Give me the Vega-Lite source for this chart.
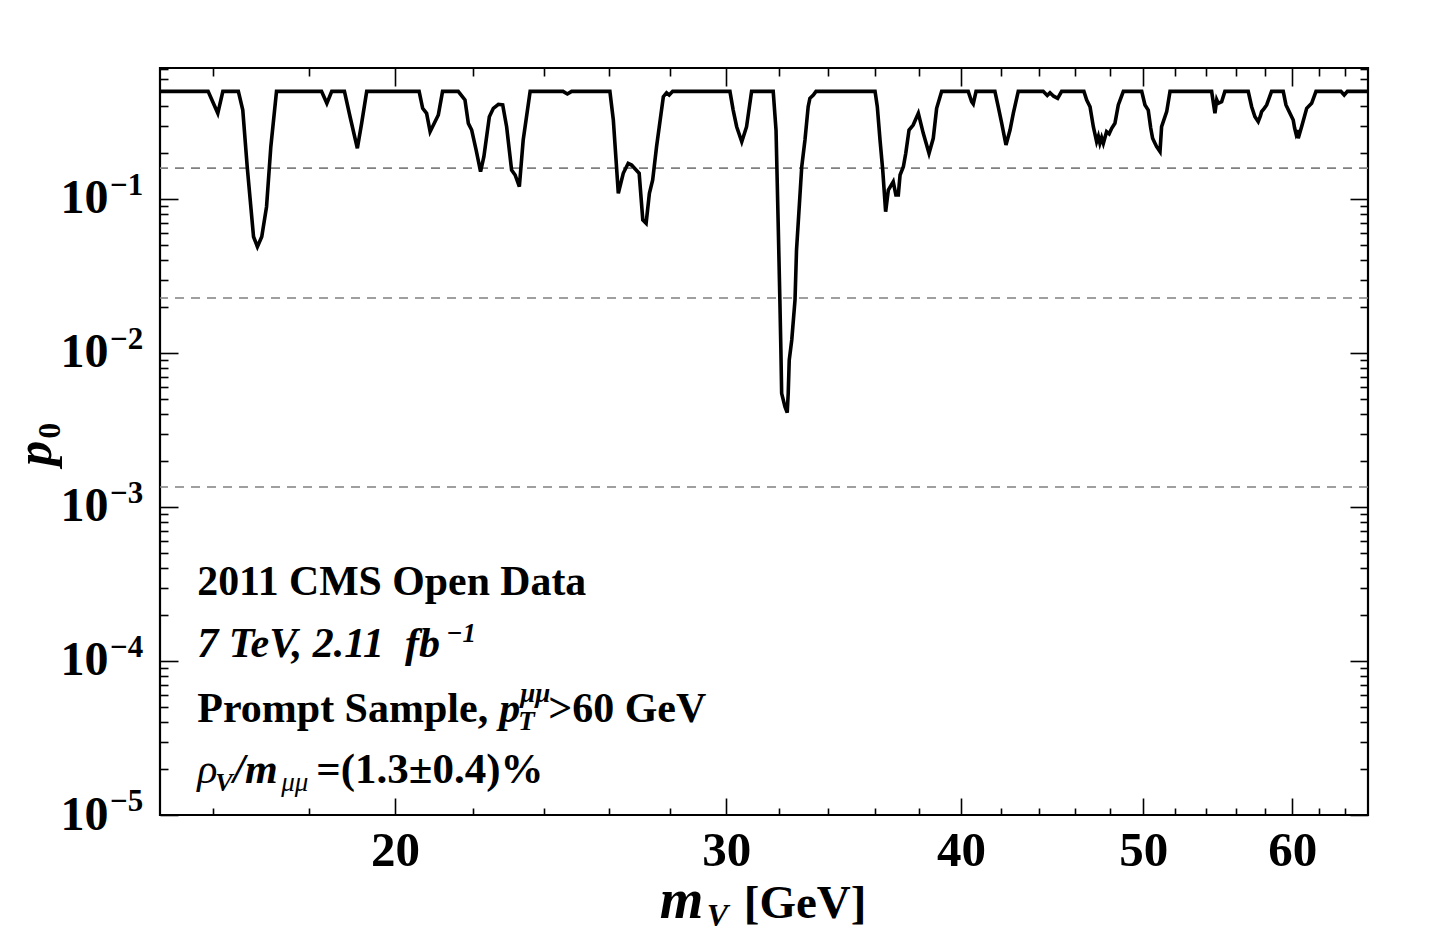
{
  "$schema": "https://vega.github.io/schema/vega-lite/v6.json",
  "width": 1208,
  "height": 747,
  "autosize": {"type": "none"},
  "padding": {"left": 160, "top": 68, "right": 70, "bottom": 121},
  "background": "white",
  "datasets": {
    "sigmas": [{"sig": 0.158655}, {"sig": 0.02275}, {"sig": 0.0013499}],
    "decades": [{"v": 0.00001, "e": "−5"}, {"v": 0.0001, "e": "−4"}, {"v": 0.001, "e": "−3"}, {"v": 0.01, "e": "−2"}, {"v": 0.1, "e": "−1"}],
    "curve": [
      {"m": 15.00, "p": 0.5}, {"m": 15.91, "p": 0.5}, {"m": 16.10, "p": 0.360}, {"m": 16.20, "p": 0.5},
      {"m": 16.51, "p": 0.5}, {"m": 16.60, "p": 0.378}, {"m": 16.69, "p": 0.162}, {"m": 16.82, "p": 0.0569},
      {"m": 16.90, "p": 0.0490}, {"m": 16.99, "p": 0.0569}, {"m": 17.09, "p": 0.0891}, {"m": 17.18, "p": 0.2186},
      {"m": 17.30, "p": 0.5}, {"m": 18.28, "p": 0.5}, {"m": 18.40, "p": 0.418}, {"m": 18.51, "p": 0.5},
      {"m": 18.80, "p": 0.5}, {"m": 18.93, "p": 0.342}, {"m": 19.10, "p": 0.2134}, {"m": 19.20, "p": 0.310},
      {"m": 19.32, "p": 0.5}, {"m": 20.60, "p": 0.5}, {"m": 20.69, "p": 0.388}, {"m": 20.79, "p": 0.360},
      {"m": 20.88, "p": 0.2735}, {"m": 21.09, "p": 0.351}, {"m": 21.20, "p": 0.5}, {"m": 21.61, "p": 0.5},
      {"m": 21.79, "p": 0.4394}, {"m": 21.88, "p": 0.310}, {"m": 21.97, "p": 0.2806}, {"m": 22.09, "p": 0.208},
      {"m": 22.21, "p": 0.1504}, {"m": 22.30, "p": 0.1883}, {"m": 22.45, "p": 0.342}, {"m": 22.56, "p": 0.388},
      {"m": 22.70, "p": 0.412}, {"m": 22.82, "p": 0.408}, {"m": 22.93, "p": 0.2947}, {"m": 23.07, "p": 0.1543},
      {"m": 23.17, "p": 0.1432}, {"m": 23.29, "p": 0.1202}, {"m": 23.40, "p": 0.2416}, {"m": 23.60, "p": 0.5},
      {"m": 24.57, "p": 0.5}, {"m": 24.70, "p": 0.4806}, {"m": 24.83, "p": 0.5}, {"m": 26.02, "p": 0.5},
      {"m": 26.13, "p": 0.326}, {"m": 26.21, "p": 0.1883}, {"m": 26.29, "p": 0.1089}, {"m": 26.45, "p": 0.1468},
      {"m": 26.61, "p": 0.1705}, {"m": 26.72, "p": 0.1662}, {"m": 26.97, "p": 0.1468}, {"m": 27.09, "p": 0.0731},
      {"m": 27.20, "p": 0.0696}, {"m": 27.31, "p": 0.1089}, {"m": 27.42, "p": 0.1328}, {"m": 27.55, "p": 0.2186},
      {"m": 27.78, "p": 0.4616}, {"m": 27.89, "p": 0.49}, {"m": 27.98, "p": 0.4735}, {"m": 28.10, "p": 0.5},
      {"m": 30.14, "p": 0.5}, {"m": 30.26, "p": 0.378}, {"m": 30.39, "p": 0.2947}, {"m": 30.58, "p": 0.2355},
      {"m": 30.76, "p": 0.2947}, {"m": 30.95, "p": 0.5}, {"m": 31.78, "p": 0.5}, {"m": 31.89, "p": 0.2806},
      {"m": 31.98, "p": 0.0629}, {"m": 32.04, "p": 0.0221}, {"m": 32.08, "p": 0.01046}, {"m": 32.11, "p": 0.00547},
      {"m": 32.24, "p": 0.00448}, {"m": 32.33, "p": 0.00410}, {"m": 32.37, "p": 0.0055}, {"m": 32.41, "p": 0.0090},
      {"m": 32.51, "p": 0.01215}, {"m": 32.64, "p": 0.0221}, {"m": 32.70, "p": 0.0466}, {"m": 32.91, "p": 0.162},
      {"m": 33.04, "p": 0.2416}, {"m": 33.17, "p": 0.3976}, {"m": 33.24, "p": 0.4507}, {"m": 33.38, "p": 0.4735},
      {"m": 33.49, "p": 0.5}, {"m": 36.00, "p": 0.5}, {"m": 36.10, "p": 0.3976}, {"m": 36.22, "p": 0.2416},
      {"m": 36.34, "p": 0.1543}, {"m": 36.47, "p": 0.0827}, {"m": 36.59, "p": 0.1144}, {"m": 36.81, "p": 0.1295},
      {"m": 36.93, "p": 0.1062}, {"m": 37.04, "p": 0.1062}, {"m": 37.12, "p": 0.1432}, {"m": 37.27, "p": 0.162},
      {"m": 37.38, "p": 0.198}, {"m": 37.53, "p": 0.2806}, {"m": 37.72, "p": 0.302}, {"m": 37.96, "p": 0.360},
      {"m": 38.19, "p": 0.267}, {"m": 38.46, "p": 0.198}, {"m": 38.66, "p": 0.2479}, {"m": 38.82, "p": 0.388},
      {"m": 39.06, "p": 0.5}, {"m": 40.35, "p": 0.5}, {"m": 40.52, "p": 0.428}, {"m": 40.60, "p": 0.414},
      {"m": 40.74, "p": 0.5}, {"m": 41.69, "p": 0.5}, {"m": 41.86, "p": 0.3976}, {"m": 42.04, "p": 0.310},
      {"m": 42.26, "p": 0.2242}, {"m": 42.47, "p": 0.2806}, {"m": 42.64, "p": 0.360}, {"m": 42.90, "p": 0.5},
      {"m": 44.23, "p": 0.5}, {"m": 44.45, "p": 0.47}, {"m": 44.60, "p": 0.49}, {"m": 44.80, "p": 0.465}, {"m": 45.02, "p": 0.4507}, {"m": 45.24, "p": 0.5},
      {"m": 46.49, "p": 0.5}, {"m": 46.65, "p": 0.4394}, {"m": 46.84, "p": 0.3976}, {"m": 47.03, "p": 0.2947},
      {"m": 47.22, "p": 0.2355}, {"m": 47.32, "p": 0.255}, {"m": 47.41, "p": 0.2299}, {"m": 47.51, "p": 0.25}, {"m": 47.61, "p": 0.2299}, {"m": 47.80, "p": 0.2735},
      {"m": 47.95, "p": 0.265}, {"m": 48.10, "p": 0.2877}, {"m": 48.29, "p": 0.310}, {"m": 48.49, "p": 0.408}, {"m": 48.79, "p": 0.5},
      {"m": 49.90, "p": 0.5}, {"m": 50.10, "p": 0.408}, {"m": 50.30, "p": 0.378}, {"m": 50.45, "p": 0.29}, {"m": 50.57, "p": 0.2479},
      {"m": 50.70, "p": 0.232}, {"m": 50.82, "p": 0.2186}, {"m": 51.03, "p": 0.2028}, {"m": 51.13, "p": 0.2947}, {"m": 51.45, "p": 0.369},
      {"m": 51.66, "p": 0.5}, {"m": 54.36, "p": 0.5}, {"m": 54.58, "p": 0.360}, {"m": 54.70, "p": 0.44}, {"m": 54.80, "p": 0.418},
      {"m": 55.03, "p": 0.428}, {"m": 55.25, "p": 0.5}, {"m": 56.85, "p": 0.5}, {"m": 57.09, "p": 0.3976},
      {"m": 57.32, "p": 0.342}, {"m": 57.55, "p": 0.3177}, {"m": 57.70, "p": 0.345}, {"m": 57.79, "p": 0.369}, {"m": 57.95, "p": 0.385}, {"m": 58.15, "p": 0.408},
      {"m": 58.50, "p": 0.5}, {"m": 59.34, "p": 0.5}, {"m": 59.54, "p": 0.408}, {"m": 59.83, "p": 0.360},
      {"m": 60.07, "p": 0.326}, {"m": 60.17, "p": 0.29}, {"m": 60.27, "p": 0.267}, {"m": 60.35, "p": 0.28}, {"m": 60.44, "p": 0.2479}, {"m": 60.69, "p": 0.2947},
      {"m": 61.07, "p": 0.388}, {"m": 61.44, "p": 0.418}, {"m": 61.77, "p": 0.5}, {"m": 63.68, "p": 0.5},
      {"m": 63.94, "p": 0.4735}, {"m": 64.19, "p": 0.5}, {"m": 65.83, "p": 0.5}
    ],
    "one": [{}]
  },
  "layer": [
    {
      "data": {"name": "sigmas"},
      "mark": {"type": "rule", "stroke": "#808080", "strokeWidth": 1.6, "strokeDash": [9, 7]},
      "encoding": {
        "y": {"field": "sig", "type": "quantitative", "scale": {"type": "log", "domain": [0.00001, 0.709], "nice": false}, "axis": null}
      }
    },
    {
      "data": {"name": "curve"},
      "mark": {"type": "line", "stroke": "black", "strokeWidth": 3.6, "clip": true},
      "encoding": {
        "x": {
          "field": "m", "type": "quantitative",
          "scale": {"type": "log", "domain": [15, 65.83], "nice": false},
          "axis": {
            "orient": "bottom", "title": null,
            "values": [16, 18, 20, 22, 24, 26, 28, 30, 32, 34, 36, 38, 40, 42, 44, 46, 48, 50, 52, 54, 56, 58, 60, 62, 64],
            "labelExpr": "indexof([20, 30, 40, 50, 60], datum.value) >= 0 ? '' + datum.value : ''",
            "tickSize": {"condition": {"test": "indexof([20, 30, 40, 50, 60], datum.value) >= 0", "value": -17}, "value": -7},
            "labelPadding": 28, "labelFontSize": 49, "labelOverlap": false, "labelFlush": false
          }
        },
        "y": {
          "field": "p", "type": "quantitative",
          "scale": {"type": "log", "domain": [0.00001, 0.709], "nice": false},
          "axis": {
            "orient": "left", "title": null,
            "values": [0.00001, 0.00002, 0.00003, 0.00004, 0.00005, 0.00006, 0.00007, 0.00008, 0.00009,
                       0.0001, 0.0002, 0.0003, 0.0004, 0.0005, 0.0006, 0.0007, 0.0008, 0.0009,
                       0.001, 0.002, 0.003, 0.004, 0.005, 0.006, 0.007, 0.008, 0.009,
                       0.01, 0.02, 0.03, 0.04, 0.05, 0.06, 0.07, 0.08, 0.09,
                       0.1, 0.2, 0.3, 0.4, 0.5, 0.6, 0.7],
            "labelExpr": "abs(log(datum.value)/LN10 - round(log(datum.value)/LN10)) < 0.01 ? '10' : ''",
            "tickSize": {"condition": {"test": "abs(log(datum.value)/LN10 - round(log(datum.value)/LN10)) < 0.01", "value": -18}, "value": -8},
            "labelPadding": 70, "labelFontSize": 48, "labelOverlap": false, "labelFlush": false
          }
        }
      }
    },
    {
      "data": {"name": "decades"},
      "mark": {"type": "text", "font": "Liberation Serif", "fontSize": 31, "fontWeight": "bold", "align": "left", "baseline": "alphabetic", "color": "black", "dx": -50, "dy": -4},
      "encoding": {
        "x": {"datum": 15, "type": "quantitative", "scale": {"type": "log", "domain": [15, 65.83], "nice": false}, "axis": null},
        "y": {"field": "v", "type": "quantitative", "scale": {"type": "log", "domain": [0.00001, 0.709], "nice": false}, "axis": null},
        "text": {"field": "e", "type": "nominal"}
      }
    },
    {
      "data": {"name": "one"},
      "mark": {"type": "text", "text": "2011 CMS Open Data", "font": "Liberation Serif", "fontSize": 41.8, "fontWeight": "bold", "align": "left", "baseline": "alphabetic", "color": "black"},
      "encoding": {
        "x": {"datum": 15.70, "type": "quantitative", "scale": {"type": "log", "domain": [15, 65.83], "nice": false},
          "axis": {
            "orient": "top", "title": null, "labels": false,
            "values": [16, 18, 20, 22, 24, 26, 28, 30, 32, 34, 36, 38, 40, 42, 44, 46, 48, 50, 52, 54, 56, 58, 60, 62, 64],
            "tickSize": {"condition": {"test": "indexof([20, 30, 40, 50, 60], datum.value) >= 0", "value": -18}, "value": -8}
          }},
        "y": {"datum": 0.0002683, "type": "quantitative", "scale": {"type": "log", "domain": [0.00001, 0.709], "nice": false},
          "axis": {
            "orient": "right", "title": null, "labels": false,
            "values": [0.00001, 0.00002, 0.00003, 0.00004, 0.00005, 0.00006, 0.00007, 0.00008, 0.00009,
                       0.0001, 0.0002, 0.0003, 0.0004, 0.0005, 0.0006, 0.0007, 0.0008, 0.0009,
                       0.001, 0.002, 0.003, 0.004, 0.005, 0.006, 0.007, 0.008, 0.009,
                       0.01, 0.02, 0.03, 0.04, 0.05, 0.06, 0.07, 0.08, 0.09,
                       0.1, 0.2, 0.3, 0.4, 0.5, 0.6, 0.7],
            "tickSize": {"condition": {"test": "abs(log(datum.value)/LN10 - round(log(datum.value)/LN10)) < 0.01", "value": -18}, "value": -8}
          }}
      }
    },
    {
      "data": {"name": "one"},
      "layer": [
        {"mark": {"type": "text", "text": "7 TeV, 2.11\u00a0\u00a0fb", "font": "Liberation Serif", "fontSize": 42, "fontWeight": "bold", "fontStyle": "italic", "align": "left", "baseline": "alphabetic", "color": "black"}},
        {"mark": {"type": "text", "text": "−1", "font": "Liberation Serif", "fontSize": 27, "fontWeight": "bold", "fontStyle": "italic", "align": "left", "baseline": "alphabetic", "color": "black", "dx": 249, "dy": -15}}
      ],
      "encoding": {
        "x": {"datum": 15.70, "type": "quantitative", "scale": {"type": "log", "domain": [15, 65.83], "nice": false}, "axis": null},
        "y": {"datum": 0.0001061, "type": "quantitative", "scale": {"type": "log", "domain": [0.00001, 0.709], "nice": false}, "axis": null}
      }
    },
    {
      "data": {"name": "one"},
      "layer": [
        {"mark": {"type": "text", "text": "Prompt Sample,", "font": "Liberation Serif", "fontSize": 42, "fontWeight": "bold", "align": "left", "baseline": "alphabetic", "color": "black"}},
        {"mark": {"type": "text", "text": "p", "font": "Liberation Serif", "fontSize": 42, "fontWeight": "bold", "fontStyle": "italic", "align": "left", "baseline": "alphabetic", "color": "black", "dx": 302}},
        {"mark": {"type": "text", "text": "μμ", "font": "Liberation Serif", "fontSize": 27, "fontWeight": "bold", "fontStyle": "italic", "align": "left", "baseline": "alphabetic", "color": "black", "dx": 323, "dy": -20}},
        {"mark": {"type": "text", "text": "T", "font": "Liberation Serif", "fontSize": 27, "fontWeight": "bold", "fontStyle": "italic", "align": "left", "baseline": "alphabetic", "color": "black", "dx": 321, "dy": 8}},
        {"mark": {"type": "text", "text": ">60 GeV", "font": "Liberation Serif", "fontSize": 42, "fontWeight": "bold", "align": "left", "baseline": "alphabetic", "color": "black", "dx": 351}}
      ],
      "encoding": {
        "x": {"datum": 15.70, "type": "quantitative", "scale": {"type": "log", "domain": [15, 65.83], "nice": false}, "axis": null},
        "y": {"datum": 0.0000402, "type": "quantitative", "scale": {"type": "log", "domain": [0.00001, 0.709], "nice": false}, "axis": null}
      }
    },
    {
      "data": {"name": "one"},
      "layer": [
        {"mark": {"type": "text", "text": "ρ", "font": "Liberation Serif", "fontSize": 42, "fontStyle": "italic", "align": "left", "baseline": "alphabetic", "color": "black"}},
        {"mark": {"type": "text", "text": "V", "font": "Liberation Serif", "fontSize": 26, "fontWeight": "bold", "fontStyle": "italic", "align": "left", "baseline": "alphabetic", "color": "black", "dx": 18, "dy": 8}},
        {"mark": {"type": "text", "text": "/m", "font": "Liberation Serif", "fontSize": 42, "fontWeight": "bold", "fontStyle": "italic", "align": "left", "baseline": "alphabetic", "color": "black", "dx": 36}},
        {"mark": {"type": "text", "text": "μμ", "font": "Liberation Serif", "fontSize": 27, "fontStyle": "italic", "align": "left", "baseline": "alphabetic", "color": "black", "dx": 84, "dy": 8}},
        {"mark": {"type": "text", "text": "=(1.3±0.4)%", "font": "Liberation Serif", "fontSize": 43, "fontWeight": "bold", "align": "left", "baseline": "alphabetic", "color": "black", "dx": 119}}
      ],
      "encoding": {
        "x": {"datum": 15.70, "type": "quantitative", "scale": {"type": "log", "domain": [15, 65.83], "nice": false}, "axis": null},
        "y": {"datum": 0.00001614, "type": "quantitative", "scale": {"type": "log", "domain": [0.00001, 0.709], "nice": false}, "axis": null}
      }
    },
    {
      "data": {"name": "one"},
      "layer": [
        {"mark": {"type": "text", "text": "m", "font": "Liberation Serif", "fontSize": 56, "fontWeight": "bold", "fontStyle": "italic", "align": "left", "baseline": "alphabetic", "color": "black"}},
        {"mark": {"type": "text", "text": "V", "font": "Liberation Serif", "fontSize": 32, "fontWeight": "bold", "fontStyle": "italic", "align": "left", "baseline": "alphabetic", "color": "black", "dx": 47, "dy": 8}},
        {"mark": {"type": "text", "text": "[GeV]", "font": "Liberation Serif", "fontSize": 47, "fontWeight": "bold", "align": "left", "baseline": "alphabetic", "color": "black", "dx": 84}}
      ],
      "encoding": {
        "x": {"datum": 27.66, "type": "quantitative", "scale": {"type": "log", "domain": [15, 65.83], "nice": false}, "axis": null},
        "y": {"datum": 0.00000215, "type": "quantitative", "scale": {"type": "log", "domain": [0.00001, 0.709], "nice": false}, "axis": null}
      }
    },
    {
      "data": {"name": "one"},
      "layer": [
        {"mark": {"type": "text", "text": "p", "font": "Liberation Serif", "fontSize": 50, "fontWeight": "bold", "fontStyle": "italic", "align": "left", "baseline": "alphabetic", "color": "black", "angle": 270}},
        {"mark": {"type": "text", "text": "0", "font": "Liberation Serif", "fontSize": 32, "fontWeight": "bold", "align": "left", "baseline": "alphabetic", "color": "black", "angle": 270, "dx": 27, "dy": 9}}
      ],
      "encoding": {
        "x": {"datum": 13.12, "type": "quantitative", "scale": {"type": "log", "domain": [15, 65.83], "nice": false}, "axis": null},
        "y": {"datum": 0.00185, "type": "quantitative", "scale": {"type": "log", "domain": [0.00001, 0.709], "nice": false}, "axis": null}
      }
    }
  ],
  "resolve": {"axis": {"x": "independent", "y": "independent"}},
  "config": {
    "view": {"stroke": "black", "strokeWidth": 2.2},
    "axis": {"domain": false, "grid": false, "labelFont": "Liberation Serif", "labelFontWeight": "bold", "labelColor": "black", "tickColor": "black", "tickWidth": 1.6}
  }
}
